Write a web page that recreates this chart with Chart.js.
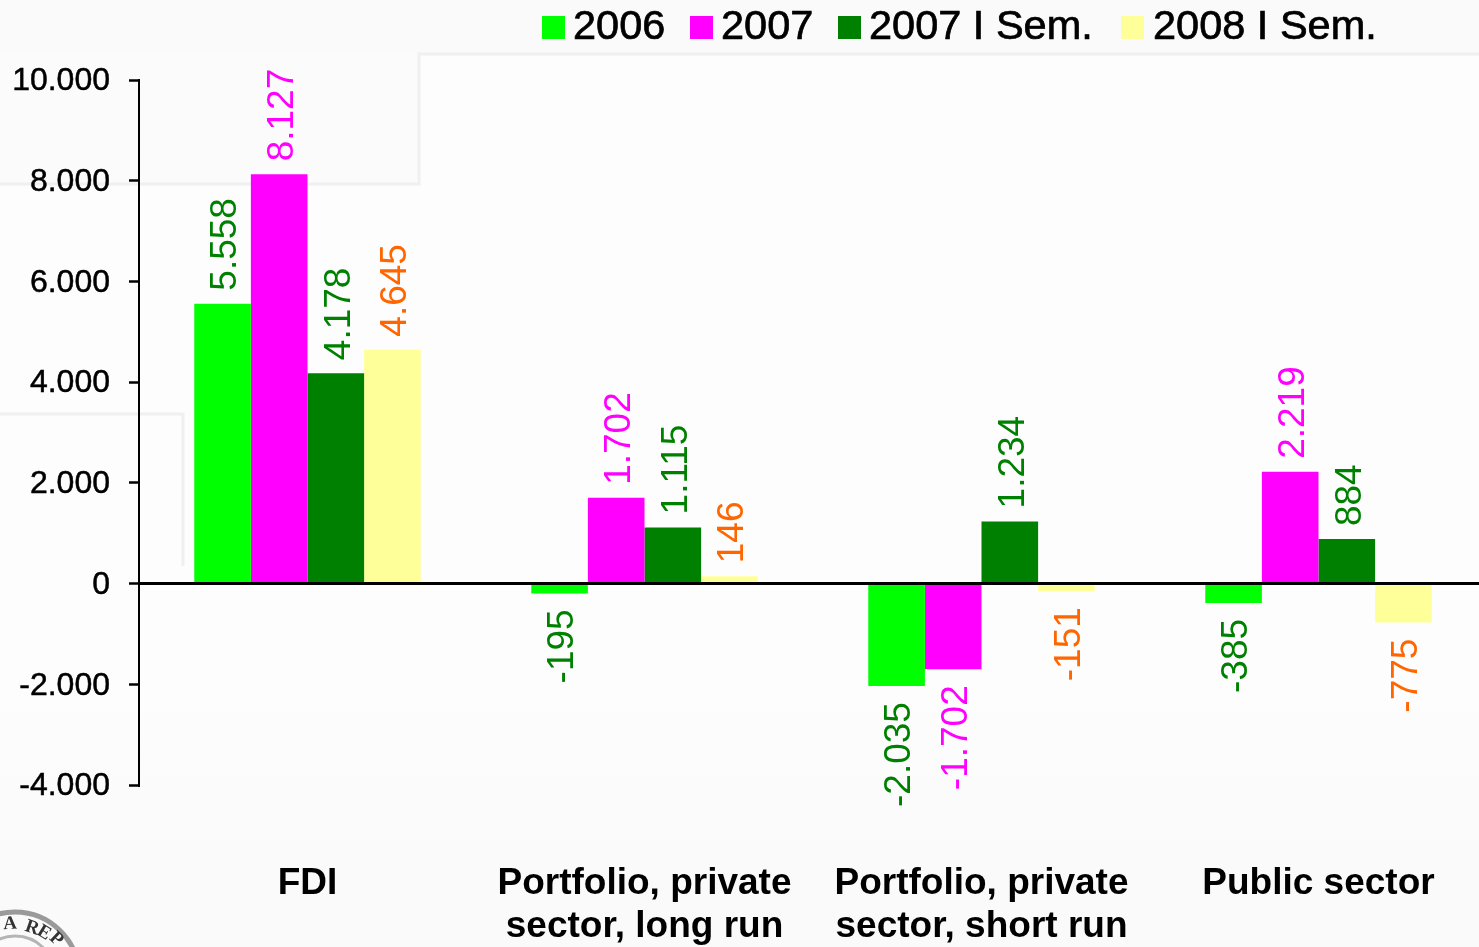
<!DOCTYPE html>
<html><head><meta charset="utf-8">
<style>html,body{margin:0;padding:0;background:#fdfdfd;overflow:hidden;width:1479px;height:947px}canvas{display:block}</style>
<script src="https://cdn.jsdelivr.net/npm/chart.js@4"></script></head>
<body><canvas id="c" width="1487" height="947" style="width:1487px;height:947px"></canvas>
<script>
const categories=[["FDI"],["Portfolio, private","sector, long run"],["Portfolio, private","sector, short run"],["Public sector"]];
const seriesNames=["2006","2007","2007 I Sem.","2008 I Sem."];
const v2006=[5558,-195,-2035,-385];
const v2007=[8127,1702,-1702,2219];
const v2007s=[4178,1115,1234,884];
const v2008s=[4645,146,-151,-775];
const colors=["#00ff00","#ff00ff","#008000","#ffff99"];
const labelColors=["#008000","#ff00ff","#008000","#ff6600"];
const ticks=[10000,8000,6000,4000,2000,0,-2000,-4000];
const fmt=n=>{const s=Math.abs(n).toString().replace(/\B(?=(\d{3})+$)/g,'.');return (n<0?'-':'')+s;};
const bg={id:'bg',beforeDraw(c){const g=c.ctx;g.save();
c.scales.y.getLabelItems().forEach(i=>{i.options.translation[1]+=1.5;});
g.fillStyle='#fdfdfd';g.fillRect(0,0,1487,947);
g.fillStyle='#fafafa';g.fillRect(0,0,1487,54);
g.fillStyle='#fbfbfb';g.fillRect(0,54,419,130);
const gr=g.createLinearGradient(0,700,0,850);gr.addColorStop(0,'#fdfdfd');gr.addColorStop(1,'#fafafa');
g.fillStyle=gr;g.fillRect(0,700,1487,247);
g.strokeStyle='#f0f0f0';g.lineWidth=3;g.beginPath();g.moveTo(1487,54);g.lineTo(419,54);g.lineTo(419,184);g.lineTo(0,184);
g.moveTo(0,414);g.lineTo(183,414);g.lineTo(183,566);g.stroke();
// seal in the bottom-left corner
g.strokeStyle='#9a9a9a';g.lineWidth=5;g.beginPath();g.arc(15,976,64,0,Math.PI*2);g.stroke();
g.strokeStyle='#b5b5b5';g.lineWidth=3;g.beginPath();g.arc(15,976,40,0,Math.PI*2);g.stroke();
g.fillStyle='#333';g.font='bold 19px "Liberation Serif"';g.textAlign='center';g.textBaseline='middle';
[['A',10,924,-0.05],['R',32,928,0.33],['E',44,933,0.55],['P',56,939,0.75]].forEach(([t,x,y,r])=>{g.save();g.translate(x,y);g.rotate(r);g.fillText(t,0,0);g.restore();});
g.restore();}};
const legendBoxes=[[542,573],[690,721],[838,869],[1121,1153]];
const legendDraw={id:'legendDraw',afterDraw(c){const g=c.ctx;g.save();g.font='41.5px "Liberation Sans"';g.textBaseline='middle';g.textAlign='left';g.lineWidth=.7;g.strokeStyle='#000';
seriesNames.forEach((n,i)=>{g.fillStyle=colors[i];g.fillRect(legendBoxes[i][0],16,23,23);g.fillStyle='#000';g.fillText(n,legendBoxes[i][1],28);g.strokeText(n,legendBoxes[i][1],28);});g.restore();}};
const vals={id:'vals',afterDatasetsDraw(c){const g=c.ctx;g.save();
c.data.datasets.forEach((d,i)=>{c.getDatasetMeta(i).data.forEach((b,j)=>{const n=d.data[j];
g.save();g.translate(b.x+3.5,n>=0?b.y-13:b.y+16);g.rotate(-Math.PI/2);
g.font='37px "Liberation Sans"';g.fillStyle=labelColors[i];g.textBaseline='middle';g.textAlign=n>=0?'left':'right';
g.fillText(fmt(n),0,0);g.restore();});});g.restore();}};
new Chart(document.getElementById('c'),{type:'bar',
data:{labels:categories,datasets:seriesNames.map((n,i)=>({label:n,data:[v2006,v2007,v2007s,v2008s][i],backgroundColor:colors[i],borderWidth:0,categoryPercentage:.672,barPercentage:1}))},
options:{responsive:false,animation:false,devicePixelRatio:1,
layout:{padding:{top:80,left:0,right:0,bottom:0}},
plugins:{tooltip:{enabled:false},legend:{display:false}},
scales:{x:{afterFit(s){s.height=162;},grid:{display:false,tickLength:77},border:{display:false},ticks:{color:'#000',font:{size:37,weight:'bold',family:'"Liberation Sans"',lineHeight:1.17},padding:0,maxRotation:0,autoSkip:false}},
y:{min:-4000,max:10000,afterFit(s){s.width=139;},
grid:{z:1,drawTicks:true,tickLength:10,tickColor:'#000',tickWidth:2.5,color:ctx=>ctx.tick&&ctx.tick.value===0?'#000':'rgba(0,0,0,0)',lineWidth:3},
border:{display:true,z:1,color:'#000',width:2},afterBuildTicks(s){s.ticks=ticks.map(v=>({value:v}));},
ticks:{color:'#000',padding:19,textStrokeColor:'#000',textStrokeWidth:.5,font:{size:32,family:'"Liberation Sans"'},callback:v=>fmt(v)}}}},
plugins:[bg,vals,legendDraw]});
</script></body></html>
